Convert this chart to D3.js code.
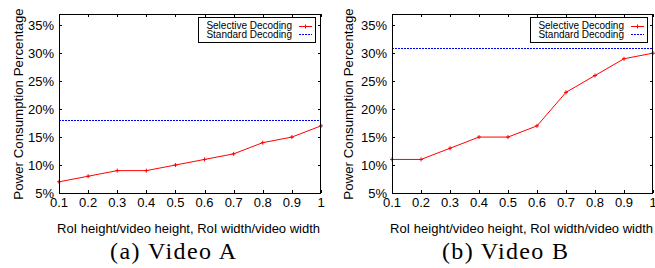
<!DOCTYPE html>
<html>
<head>
<meta charset="utf-8">
<script src="https://cdn.jsdelivr.net/npm/d3@7"></script>
<style>
  body { margin: 0; background: #fff; }
  svg { display: block; }
</style>
</head>
<body>
<div id="chart"></div>
<script>
const width = 655;
const height = 268;

const ratios = [0.1, 0.2, 0.3, 0.4, 0.5, 0.6, 0.7, 0.8, 0.9, 1];
const selectiveA = [7, 8, 9, 9, 10, 11, 12, 14, 15, 17];
const selectiveB = [11, 11, 13, 15, 15, 17, 23, 26, 29, 30];
const standardA = 18;
const standardB = 31;
const yTicks = [5, 10, 15, 20, 25, 30, 35];
const captions = ["(a) Video A", "(b) Video B"];

const panels = [
    { left: 59, right: 321, sel: selectiveA, std: standardA, caption: captions[0], capX: 173, titleX: 18 },
    { left: 392, right: 653, sel: selectiveB, std: standardB, caption: captions[1], capX: 505, titleX: 348 }
];

const plotTop = 14, plotBottom = 193;

const svg = d3.select("#chart")
    .append("svg")
    .attr("width", width)
    .attr("height", height);

panels.forEach(p => drawPanel(p));

function drawPanel(p) {
    const x = d3.scaleLinear().domain([0.1, 1]).range([p.left, p.right]);
    const y = d3.scaleLinear().domain([5, 37]).range([plotBottom, plotTop]);
    const tk = 3;

    const g = svg.append("g")
        .attr("font-family", "'Liberation Sans', Arial, sans-serif")
        .attr("fill", "#000");

    // ticks, mirrored on all sides (gnuplot style)
    const ticks = g.append("g").attr("stroke", "#000").attr("stroke-width", 1);
    ratios.forEach(r => {
        const xx = Math.round(x(r)) + 0.5;
        ticks.append("line").attr("x1", xx).attr("x2", xx).attr("y1", plotBottom).attr("y2", plotBottom - tk);
        ticks.append("line").attr("x1", xx).attr("x2", xx).attr("y1", plotTop).attr("y2", plotTop + tk);
    });
    yTicks.forEach(v => {
        const yy = Math.round(y(v)) + 0.5;
        ticks.append("line").attr("x1", p.left).attr("x2", p.left + tk).attr("y1", yy).attr("y2", yy);
        ticks.append("line").attr("x1", p.right).attr("x2", p.right - tk).attr("y1", yy).attr("y2", yy);
    });

    g.append("g")
        .attr("font-size", 13)
        .attr("text-anchor", "middle")
        .selectAll("text")
        .data(ratios)
        .join("text")
        .attr("x", d => x(d))
        .attr("y", plotBottom + 14)
        .text(d => d === 1 ? "1" : d3.format(".1f")(d));

    g.append("g")
        .attr("font-size", 13)
        .attr("text-anchor", "end")
        .selectAll("text")
        .data(yTicks)
        .join("text")
        .attr("x", p.left - 5)
        .attr("y", d => y(d) + 4.5)
        .text(d => d + "%");

    g.append("text")
        .attr("font-size", 13.3)
        .attr("text-anchor", "middle")
        .attr("transform", `translate(${p.titleX + 5},${104}) rotate(-90)`)
        .text("Power Consumption Percentage");

    g.append("text")
        .attr("font-size", 13)
        .attr("x", p.left - 2)
        .attr("y", 233)
        .text("RoI height/video height, RoI width/video width");

    g.append("text")
        .attr("font-family", "'Liberation Serif', 'DejaVu Serif', serif")
        .attr("font-size", 24)
        .attr("text-anchor", "middle")
        .attr("textLength", 126)
        .attr("lengthAdjust", "spacing")
        .attr("x", p.capX)
        .attr("y", 259)
        .text(p.caption);

    // standard decoding line
    const sy = Math.round(y(p.std)) + 0.5;
    g.append("line")
        .attr("x1", p.left).attr("x2", p.right)
        .attr("y1", sy).attr("y2", sy)
        .attr("stroke", "#0000ff")
        .attr("stroke-width", 1)
        .attr("stroke-dasharray", "2,1");

    const line = d3.line().x((d, i) => x(ratios[i])).y(d => y(d));
    g.append("path")
        .datum(p.sel)
        .attr("fill", "none")
        .attr("stroke", "#ff0000")
        .attr("stroke-width", 1)
        .attr("d", line);

    g.append("g")
        .attr("stroke", "#ff0000")
        .attr("stroke-width", 1)
        .selectAll("path")
        .data(p.sel)
        .join("path")
        .attr("d", (d, i) => {
            const cx = x(ratios[i]), cy = y(d);
            return `M${cx - 2},${cy}H${cx + 2}M${cx},${cy - 2}V${cy + 2}`;
        });

    // frame
    g.append("rect")
        .attr("x", p.left + 0.5).attr("y", plotTop + 0.5)
        .attr("width", p.right - p.left - 1).attr("height", plotBottom - plotTop)
        .attr("fill", "none")
        .attr("stroke", "#000")
        .attr("stroke-width", 1);

    // legend
    const lx = p.right - 123, ly = 17;
    const leg = g.append("g");
    leg.append("rect")
        .attr("x", lx + 0.5).attr("y", ly + 0.5)
        .attr("width", 117).attr("height", 25)
        .attr("fill", "#fff")
        .attr("stroke", "#000");
    leg.append("text")
        .attr("font-size", 10).attr("text-anchor", "end")
        .attr("x", lx + 94).attr("y", ly + 12)
        .text("Selective Decoding");
    leg.append("text")
        .attr("font-size", 10).attr("text-anchor", "end")
        .attr("x", lx + 94).attr("y", ly + 20.5)
        .text("Standard Decoding");
    leg.append("line")
        .attr("x1", lx + 101).attr("x2", lx + 114)
        .attr("y1", ly + 9.5).attr("y2", ly + 9.5)
        .attr("stroke", "#ff0000");
    leg.append("path")
        .attr("d", `M${lx + 105.5},${ly + 9.5}H${lx + 109.5}M${lx + 107.5},${ly + 7.5}V${ly + 11.5}`)
        .attr("stroke", "#ff0000");
    leg.append("line")
        .attr("x1", lx + 101).attr("x2", lx + 114)
        .attr("y1", ly + 17.5).attr("y2", ly + 17.5)
        .attr("stroke", "#0000ff")
        .attr("stroke-dasharray", "2,1");
}
</script>
</body>
</html>
